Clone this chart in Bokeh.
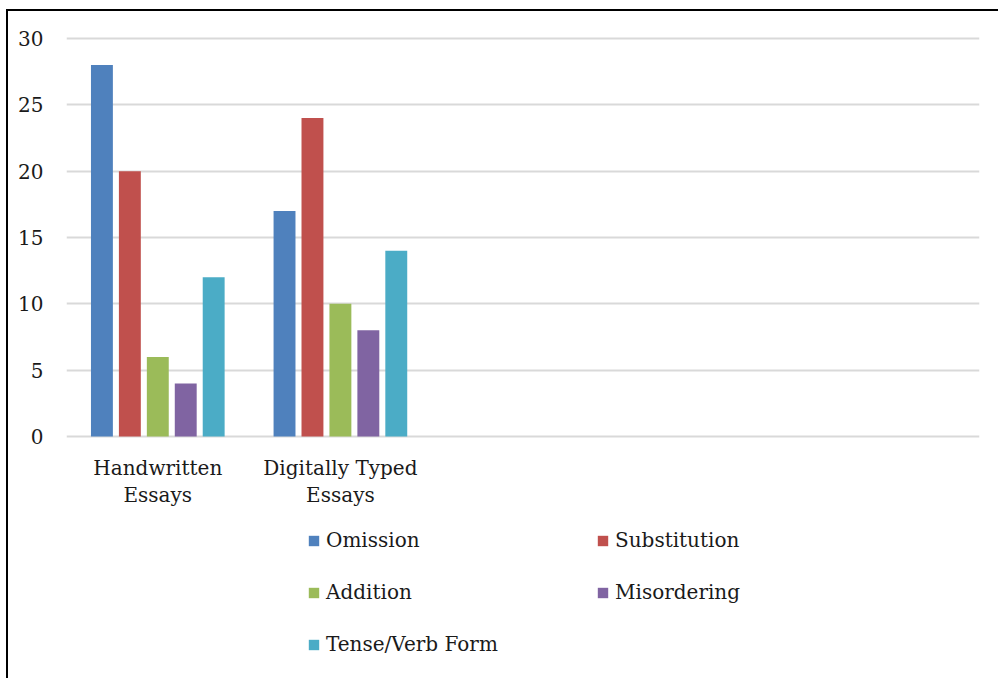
from bokeh.plotting import figure
from bokeh.models import Range1d, FixedTicker, Legend, LegendItem, ColumnDataSource
from bokeh.transform import dodge
from bokeh.core.properties import value
from bokeh.embed import file_html
from bokeh.resources import INLINE

categories = ["Handwritten\nEssays", "Digitally Typed\nEssays"]
series = ["Omission", "Substitution", "Addition", "Misordering", "Tense/Verb Form"]
omission = [28, 17]
substitution = [20, 24]
addition = [6, 10]
misordering = [4, 8]
tense_verb = [12, 14]
colors = ["#4F81BD", "#C0504D", "#9BBB59", "#8064A2", "#4BACC6"]
y_ticks = [0, 5, 10, 15, 20, 25, 30]

FONT = "DejaVu Serif"
xpos = [i + 0.5 for i in range(len(categories))]
src = ColumnDataSource(dict(x=xpos, omission=omission, substitution=substitution,
                            addition=addition, misordering=misordering, tense_verb=tense_verb,
                            label=categories))
keys = ["omission", "substitution", "addition", "misordering", "tense_verb"]

# pixels per unit: 398/30; frame runs down to the window bottom so the legend fits inside it
ppu = 398 / 30.0
p = figure(width=992, height=667, output_backend="svg", toolbar_location=None,
           x_range=Range1d(0, 5), y_range=Range1d(-242 / ppu, 30 + 2 / ppu))
p.margin = (9, 0, 0, 6)
p.styles = {"border-left": "2px solid black", "border-top": "2px solid black"}
p.min_border_left = 58
p.min_border_right = 19
p.min_border_top = 25
p.min_border_bottom = 0
p.frame_height = 642
p.frame_width = 913
p.outline_line_color = None
p.background_fill_color = "white"

step = 0.153
items = []
for i, (k, name, c) in enumerate(zip(keys, series, colors)):
    r = p.vbar(x=dodge("x", (i - 2) * step, range=p.x_range), top=k, bottom=0,
               width=0.12, source=src, fill_color=c, line_color=None)
    items.append(LegendItem(label=name, renderers=[r]))

# category labels under the bars
p.text(x="x", y=-1.45, text="label", source=src, text_align="center",
       text_baseline="top", text_font=value(FONT), text_font_size="20px",
       text_color="#1a1a1a", text_line_height=1.14)

p.xaxis.visible = False

p.yaxis.ticker = FixedTicker(ticks=y_ticks)
p.yaxis.axis_line_color = None
p.yaxis.major_tick_line_color = None
p.yaxis.minor_tick_line_color = None
p.yaxis.major_label_text_font = FONT
p.yaxis.major_label_text_font_size = "20px"
p.yaxis.major_label_text_color = "#1a1a1a"
p.yaxis.major_label_standoff = 17

p.xgrid.grid_line_color = None
p.ygrid.ticker = FixedTicker(ticks=y_ticks)
p.ygrid.grid_line_color = "#d9d9d9"
p.ygrid.grid_line_width = 2

# legend fills column by column; order items so they read row by row
legend_order = [0, 2, 4, 1, 3]
legend = Legend(items=[items[j] for j in legend_order], ncols=2, location=(241, 22),
                glyph_width=13, glyph_height=13, label_standoff=6,
                label_width=242, label_height=24, spacing=28,
                padding=0, margin=0, border_line_color=None,
                background_fill_alpha=0,
                label_text_font=FONT, label_text_font_size="20px",
                label_text_color="#1a1a1a")
p.add_layout(legend, "center")

open("out.html", "w").write(file_html(p, INLINE))
